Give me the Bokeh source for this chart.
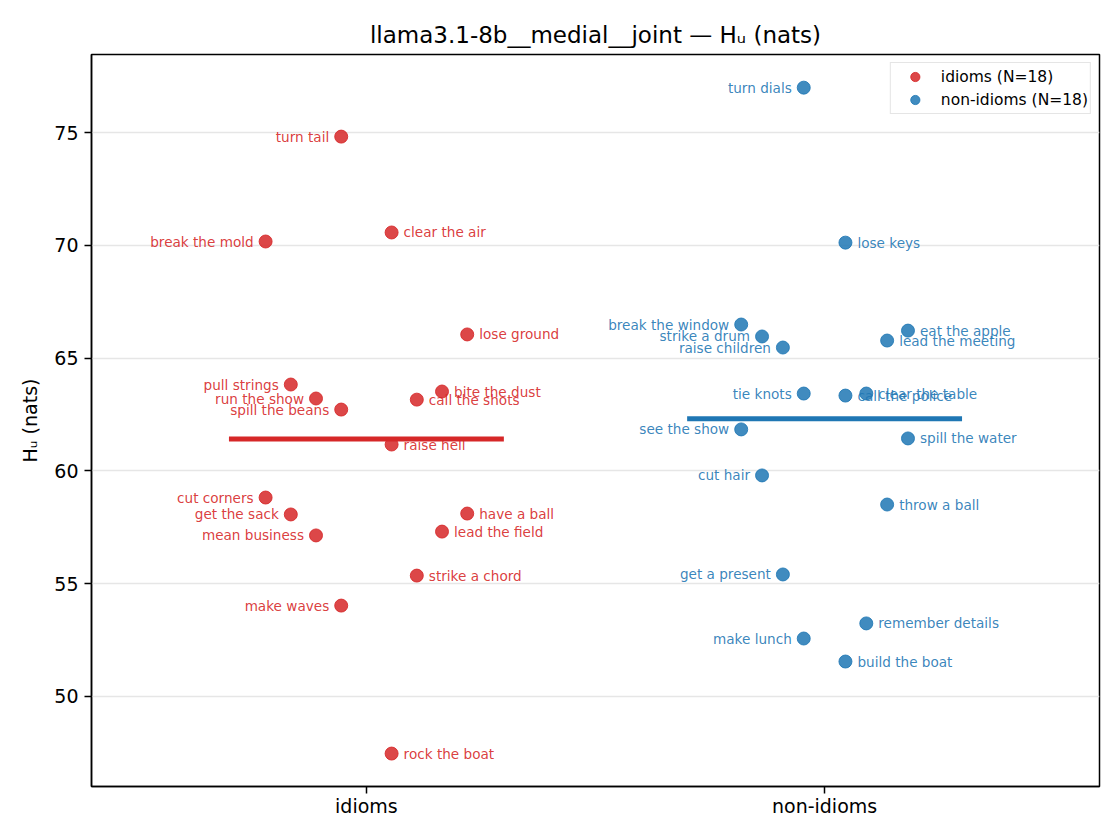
import numpy as np
from bokeh.plotting import figure
from bokeh.models import (ColumnDataSource, FixedTicker, Legend, LegendItem, Range1d)
from bokeh.embed import file_html
from bokeh.resources import INLINE

# ---------------- data ----------------
categories = ["idioms", "non-idioms"]
group_colors = ["#d62728", "#1f77b4"]

idiom_labels = ["turn tail", "break the mold", "clear the air", "lose ground", "pull strings",
                "run the show", "spill the beans", "bite the dust", "call the shots", "raise hell",
                "cut corners", "get the sack", "mean business", "have a ball", "lead the field",
                "strike a chord", "make waves", "rock the boat"]
idiom_values = [74.82, 70.17, 70.57, 66.05, 63.83, 63.21, 62.72, 63.52, 63.16, 61.17,
                58.82, 58.07, 57.14, 58.11, 57.31, 55.36, 54.03, 47.47]
idiom_jitter = [-0.055, -0.22, 0.055, 0.22, -0.165, -0.11, -0.055, 0.165, 0.11, 0.055,
                -0.22, -0.165, -0.11, 0.22, 0.165, 0.11, -0.055, 0.055]

nonidiom_labels = ["turn dials", "lose keys", "break the window", "strike a drum", "raise children",
                   "eat the apple", "lead the meeting", "tie knots", "call the police", "clear the table",
                   "see the show", "spill the water", "cut hair", "throw a ball", "get a present",
                   "remember details", "make lunch", "build the boat"]
nonidiom_values = [76.99, 70.12, 66.49, 65.96, 65.47, 66.22, 65.78, 63.43, 63.34, 63.43,
                   61.84, 61.44, 59.80, 58.51, 55.41, 53.24, 52.57, 51.55]
nonidiom_jitter = [-0.0455, 0.0455, -0.182, -0.1365, -0.091, 0.182, 0.1365, -0.0455, 0.0455, 0.091,
                   -0.182, 0.182, -0.1365, 0.1365, -0.091, 0.091, -0.0455, 0.0455]

y_ticks = [50, 55, 60, 65, 70, 75]

groups = [
    (idiom_labels, idiom_values, idiom_jitter),
    (nonidiom_labels, nonidiom_values, nonidiom_jitter),
]

FONT = "DejaVu Sans"

p = figure(width=1120, height=840, output_backend="svg", toolbar_location=None,
           x_range=Range1d(-0.6, 1.6), y_range=Range1d(46.01, 78.46),
           min_border_left=91, min_border_right=21, min_border_top=54, min_border_bottom=54)

p.title.text = "llama3.1-8b__medial__joint \u2014 H\u1d64 (nats)"
p.title.text_font = FONT
p.title.text_font_size = "23px"
p.title.text_font_style = "normal"
p.title.align = "center"
p.title.text_color = "black"
p.title.standoff = 13

p.background_fill_color = "white"
p.border_fill_color = "white"
p.outline_line_color = "black"
p.outline_line_width = 1.5

p.xgrid.visible = False
p.ygrid.grid_line_color = "#e6e6e6"
p.ygrid.grid_line_width = 1.3

p.xaxis.ticker = FixedTicker(ticks=[0, 1])
p.xaxis.major_label_overrides = {0: categories[0], 1: categories[1]}
p.yaxis.ticker = FixedTicker(ticks=y_ticks)
for ax in (p.xaxis, p.yaxis):
    ax.major_label_text_font = FONT
    ax.major_label_text_font_size = "19px"
    ax.major_label_text_color = "black"
    ax.axis_line_color = "black"
    ax.axis_line_width = 1.5
    ax.major_tick_line_color = "black"
    ax.major_tick_line_width = 1.5
    ax.major_tick_out = 7
    ax.major_tick_in = 0
    ax.minor_tick_line_color = None
p.xaxis.major_label_standoff = 1
p.yaxis.major_label_standoff = 6
p.yaxis.axis_label = "H\u1d64 (nats)"
p.yaxis.axis_label_text_font = FONT
p.yaxis.axis_label_text_font_size = "19px"
p.yaxis.axis_label_text_font_style = "normal"
p.yaxis.axis_label_text_color = "black"
p.yaxis.axis_label_standoff = 10

legend_items = []
for gi, (labels, vals, jit) in enumerate(groups):
    color = group_colors[gi]
    xs = [gi + j for j in jit]
    src = ColumnDataSource(dict(x=xs, y=vals, label=labels))
    r = p.scatter("x", "y", source=src, size=13, fill_color=color, fill_alpha=0.85,
                  line_color=color, line_alpha=0.85, line_width=1)
    legend_items.append(LegendItem(label=f"{categories[gi]} (N={len(vals)})", renderers=[r]))

    left = [i for i, j in enumerate(jit) if j < 0]
    right = [i for i, j in enumerate(jit) if j > 0]
    for idx, align, off in ((left, "right", -12), (right, "left", 12)):
        s = ColumnDataSource(dict(x=[xs[i] for i in idx], y=[vals[i] for i in idx],
                                  t=[labels[i] for i in idx]))
        p.text("x", "y", text="t", source=s, x_offset=off, text_align=align,
               text_baseline="middle", text_font_size="13.6px", text_color=color,
               text_alpha=0.9, text_font={"value": FONT})

    mean = float(np.mean(vals))
    p.line([gi - 0.3, gi + 0.3], [mean, mean], line_color=color, line_width=5)

legend = Legend(items=legend_items, location="top_right")
legend.label_text_font = FONT
legend.label_text_font_size = "15.5px"
legend.label_text_color = "black"
legend.border_line_color = "#cccccc"
legend.border_line_width = 1.2
legend.background_fill_alpha = 0.8
legend.margin = 8
legend.padding = 2
legend.spacing = 0
legend.glyph_height = 23
legend.glyph_width = 44
legend.label_standoff = 4
legend.label_height = 20
p.add_layout(legend)

open("out.html", "w").write(file_html(p, INLINE))
